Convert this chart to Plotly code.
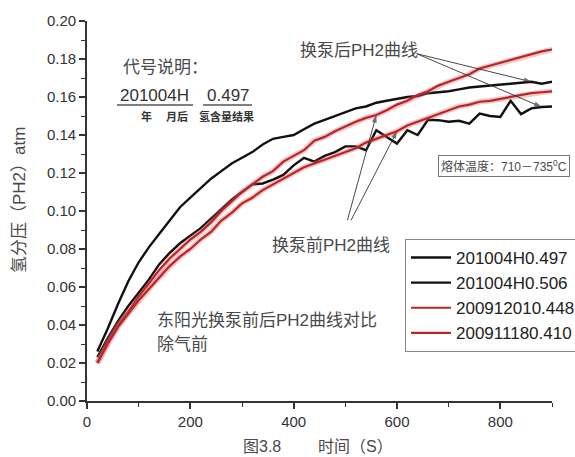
import plotly.graph_objects as go

# Sampling times (s)
time_s = list(range(20, 901, 20))

# Hydrogen partial pressure (atm) for each melt
h497 = [0.026, 0.038, 0.051, 0.063, 0.073, 0.081, 0.088, 0.095, 0.102, 0.107,
        0.112, 0.117, 0.121, 0.125, 0.128, 0.131, 0.135, 0.138, 0.139, 0.140,
        0.143, 0.146, 0.148, 0.150, 0.152, 0.154, 0.155, 0.157, 0.158, 0.159,
        0.160, 0.1605, 0.162, 0.1625, 0.163, 0.164, 0.165, 0.1655, 0.166, 0.1665,
        0.167, 0.1675, 0.168, 0.167, 0.168]
h506 = [0.023, 0.033, 0.042, 0.050, 0.057, 0.064, 0.072, 0.078, 0.083, 0.087,
        0.091, 0.096, 0.101, 0.106, 0.110, 0.114, 0.1145, 0.1165, 0.119, 0.124,
        0.128, 0.126, 0.129, 0.131, 0.134, 0.134, 0.132, 0.1425, 0.139, 0.1355,
        0.1425, 0.140, 0.148, 0.1478, 0.147, 0.1475, 0.146, 0.1513, 0.150, 0.1495,
        0.158, 0.151, 0.154, 0.1547, 0.155]
r448 = [0.020, 0.031, 0.040, 0.047, 0.055, 0.062, 0.069, 0.075, 0.080, 0.085,
        0.089, 0.094, 0.100, 0.105, 0.110, 0.114, 0.118, 0.121, 0.126, 0.129,
        0.132, 0.137, 0.139, 0.142, 0.1445, 0.147, 0.149, 0.1505, 0.153, 0.156,
        0.158, 0.161, 0.163, 0.166, 0.168, 0.170, 0.172, 0.175, 0.1765, 0.178,
        0.1795, 0.181, 0.1825, 0.184, 0.185]
r410 = [0.020, 0.030, 0.039, 0.046, 0.053, 0.059, 0.065, 0.071, 0.076, 0.080,
        0.085, 0.089, 0.095, 0.099, 0.104, 0.107, 0.111, 0.114, 0.117, 0.120,
        0.123, 0.125, 0.127, 0.129, 0.131, 0.133, 0.136, 0.138, 0.140, 0.142,
        0.145, 0.147, 0.149, 0.151, 0.153, 0.155, 0.156, 0.1575, 0.158, 0.159,
        0.160, 0.161, 0.162, 0.1625, 0.163]

series_names = ["201004H0.497", "201004H0.506", "200912010.448", "200911180.410"]
x_ticks = [0, 200, 400, 600, 800]
y_ticks = [0.00, 0.02, 0.04, 0.06, 0.08, 0.10, 0.12, 0.14, 0.16, 0.18, 0.20]

W, H = 575, 457
ML, MR, MT, MB = 87, 23, 21, 56
PW, PH = W - ML - MR, H - MT - MB

FONT = "Liberation Sans, Arial, Noto Sans CJK SC, sans-serif"
BLACK = "#111111"
RED = "#b8262a"
HALO = "rgba(215,95,95,0.35)"
TXT = "#4a4a4a"
ARROW = "#333333"


def px(x):
    return (x - ML) / PW


def py(y):
    return (H - MB - y) / PH


def value_at(series, t):
    return series[time_s.index(t)]


fig = go.Figure()

for name, vals in zip(series_names[:2], [h497, h506]):
    fig.add_trace(go.Scatter(x=time_s, y=vals, mode="lines", name=name,
                             line=dict(color=BLACK, width=2.4)))

for name, vals in zip(series_names[2:], [r448, r410]):
    fig.add_trace(go.Scatter(x=time_s, y=vals, mode="lines", showlegend=False,
                             hoverinfo="skip", line=dict(color=HALO, width=5.5)))
    fig.add_trace(go.Scatter(x=time_s, y=vals, mode="lines", name=name,
                             line=dict(color=RED, width=2.2)))

# Pointer arrows from the two captions to the curves they describe
tail_after = (638, 0.1828)
tail_before = [(504, 0.0951), (511, 0.0951)]
pointers = [(tail_after, 860, h497), (tail_after, 880, h506),
            (tail_before[0], 560, r448), (tail_before[1], 600, r410)]
for (tx, ty), t, s in pointers:
    fig.add_trace(go.Scatter(
        x=[tx, t], y=[ty, value_at(s, t)], mode="lines+markers", showlegend=False,
        hoverinfo="skip", line=dict(color=ARROW, width=0.9),
        marker=dict(symbol="arrow", size=[0, 8], angleref="previous", color=ARROW,
                    line=dict(width=0))))

annotations = []


def label(text, x, y, size=17, color=TXT, xanchor="left", yanchor="middle", **kw):
    annotations.append(dict(text=text, x=px(x), y=py(y), xref="paper", yref="paper",
                            xanchor=xanchor, yanchor=yanchor, showarrow=False,
                            font=dict(family=FONT, size=size, color=color), **kw))


label("代号说明：", 121, 67)
label("201004H", 118, 95, color="#333333")
label("0.497", 205, 95, color="#333333")
label("<b>年</b>", 146, 116, size=11, xanchor="center", color="#333333")
label("<b>月后</b>", 177, 116, size=11, xanchor="center", color="#333333")
label("<b>氢含量结果</b>", 226, 116, size=11, xanchor="center", color="#333333")
label("换泵后PH2曲线", 298, 50)
label("换泵前PH2曲线", 270, 245)
label("东阳光换泵前后PH2曲线对比", 155, 320)
label("除气前", 155, 344)
label("图3.8", 241, 457, size=16, yanchor="bottom")
label("时间（S）", 316, 457, size=16, yanchor="bottom")
label("氢分压（PH2）atm", 19, 200, xanchor="center", textangle=-90)
label("熔体温度：710－735<sup>0</sup>C", 504, 166, size=12, xanchor="center",
      bordercolor="#777777", borderwidth=1, borderpad=2, bgcolor="white")

shapes = [
    dict(type="line", xref="paper", yref="paper", x0=px(117), x1=px(193), y0=py(105), y1=py(105),
         line=dict(color="#555555", width=1.4)),
    dict(type="line", xref="paper", yref="paper", x0=px(203), x1=px(252), y0=py(105), y1=py(105),
         line=dict(color="#555555", width=1.4)),
]

axis_common = dict(showgrid=False, zeroline=False, showline=True, linecolor="#333333",
                   linewidth=1.8, ticks="outside", ticklen=6, tickwidth=1.5, tickcolor="#333333",
                   tickfont=dict(family=FONT, size=15, color="#333333"), mirror=False)

fig.update_layout(
    width=W, height=H,
    margin=dict(l=ML, r=MR, t=MT, b=MB, pad=0, autoexpand=False),
    paper_bgcolor="white", plot_bgcolor="white",
    xaxis=dict(range=[0, 900], tickvals=x_ticks, ticktext=[str(v) for v in x_ticks],
               minor=dict(dtick=100, tick0=0, ticks="outside", ticklen=4, tickwidth=1.2,
                          tickcolor="#333333", showgrid=False),
               **axis_common),
    yaxis=dict(range=[0, 0.2], tickvals=y_ticks, ticktext=[f"{v:.2f}" for v in y_ticks],
               minor=dict(dtick=0.01, tick0=0, ticks="outside", ticklen=4, tickwidth=1.2,
                          tickcolor="#333333", showgrid=False),
               **axis_common),
    legend=dict(x=px(405), y=py(239), xanchor="left", yanchor="top",
                bordercolor="#888888", borderwidth=1, bgcolor="white",
                font=dict(family=FONT, size=17, color="#222222"),
                itemwidth=40, tracegroupgap=0),
    annotations=annotations,
    shapes=shapes,
    showlegend=True,
)

fig.write_html("out.html")
